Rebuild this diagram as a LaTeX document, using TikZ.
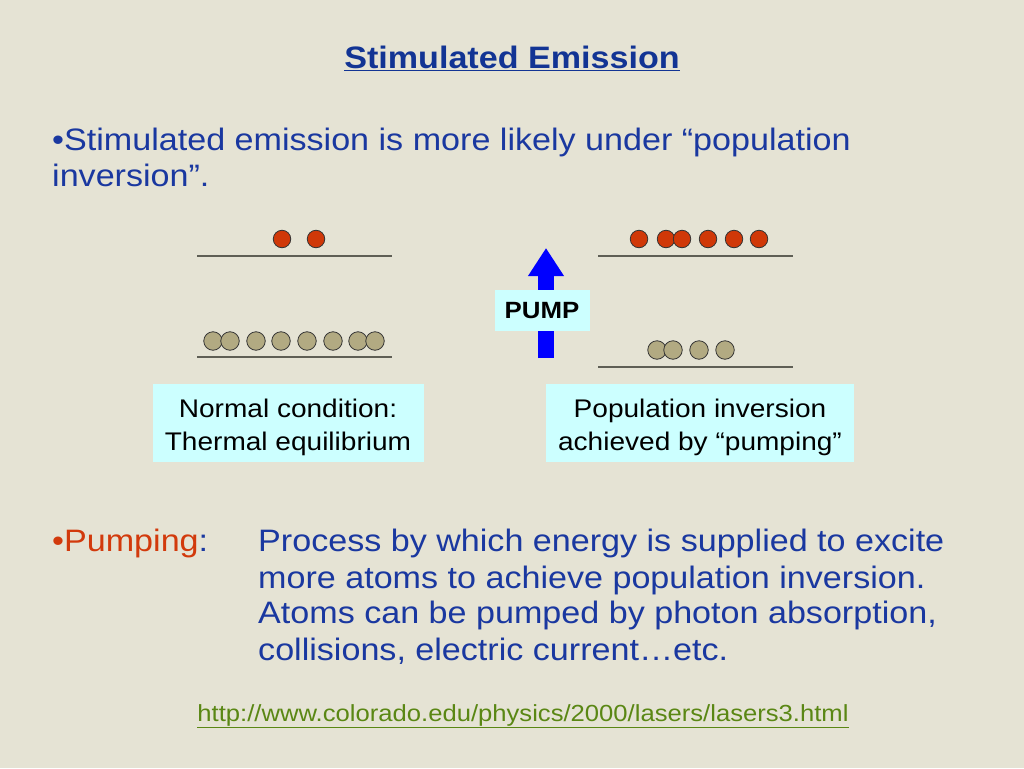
\documentclass[tikz,border=0pt]{standalone}
\usepackage{fontspec}
\setmainfont{Liberation Sans}[FakeStretch=1.1]
\usetikzlibrary{arrows.meta}

\definecolor{slidebg}{RGB}{229,227,212}
\definecolor{textblue}{RGB}{26,56,160}
\definecolor{titleblue}{RGB}{18,52,148}
\definecolor{pumporange}{RGB}{210,58,12}
\definecolor{boxcyan}{RGB}{204,255,255}
\definecolor{urlgreen}{RGB}{90,135,20}
\definecolor{levelgray}{RGB}{95,95,85}
\definecolor{atomred}{RGB}{208,56,8}
\definecolor{atomtan}{RGB}{178,170,130}

\tikzset{
  level/.style={draw=levelgray, line width=1.4pt},
  excited/.style={circle, draw=black!80, line width=0.8pt, fill=atomred, minimum size=17.5pt, inner sep=0pt},
  ground/.style={circle, draw=black!80, line width=0.8pt, fill=atomtan, minimum size=18.5pt, inner sep=0pt},
  body/.style={anchor=base west, inner sep=0pt, text=textblue, font=\fontsize{31}{36}\selectfont},
  infobox/.style={fill=boxcyan, inner sep=0pt, minimum height=78pt},
  infotext/.style={align=center, inner sep=0pt, font=\fontsize{25.5}{33}\selectfont},
}

\begin{document}
\begin{tikzpicture}[x=1pt,y=-1pt]
    \fill[slidebg] (0,0) rectangle (1024,768);
    \useasboundingbox (0,0) rectangle (1024,768);

    % title and first bullet
    \node[anchor=base, inner sep=0pt, text=titleblue, font=\fontsize{31}{36}\selectfont\bfseries] (title) at (512,68) {\underline{Stimulated Emission}};
    \node[body] (bullet1) at (52,150) {•Stimulated emission is more likely under “population};
    \node[body] (bullet1b) at (52,186) {inversion”.};

    % normal condition
    \coordinate (lup1) at (197,256);
    \coordinate (lup2) at (392,256);
    \coordinate (llo1) at (197,357);
    \coordinate (llo2) at (392,357);
    \draw[level] (lup1) -- (lup2);
    \draw[level] (llo1) -- (llo2);

    \node[excited] (lu1) at (282,239) {};
    \node[excited] (lu2) at (316,239) {};

    \node[ground] (ll1) at (213,341) {};
    \node[ground] (ll2) at (230,341) {};
    \node[ground] (ll3) at (256,341) {};
    \node[ground] (ll4) at (281,341) {};
    \node[ground] (ll5) at (307,341) {};
    \node[ground] (ll6) at (333,341) {};
    \node[ground] (ll7) at (358,341) {};
    \node[ground] (ll8) at (375,341) {};

    % population inversion
    \coordinate (rup1) at (598,256);
    \coordinate (rup2) at (793,256);
    \coordinate (rlo1) at (598,367);
    \coordinate (rlo2) at (793,367);
    \draw[level] (rup1) -- (rup2);
    \draw[level] (rlo1) -- (rlo2);

    \node[excited] (ru1) at (639,239) {};
    \node[excited] (ru2) at (666,239) {};
    \node[excited] (ru3) at (682,239) {};
    \node[excited] (ru4) at (708,239) {};
    \node[excited] (ru5) at (734,239) {};
    \node[excited] (ru6) at (759,239) {};

    \node[ground] (rl1) at (657,350) {};
    \node[ground] (rl2) at (673,350) {};
    \node[ground] (rl3) at (699,350) {};
    \node[ground] (rl4) at (725,350) {};

    % pump arrow
    \coordinate (pumpbase) at (546,358);
    \coordinate (pumptip) at (546,248);
    \draw[blue, line width=16pt, -{Triangle[width=34pt, length=28pt]}] (pumpbase) -- (pumptip);
    \node[fill=boxcyan, minimum width=95pt, minimum height=41pt, inner sep=0pt, font=\fontsize{23.5}{26}\selectfont\bfseries] (pump) at (542,310.5) {PUMP};

    % captions
    \node[infobox, minimum width=271pt] (normal) at (288.5,423) {};
    \node[infotext] (normaltext) at (288,427) {Normal condition:\\Thermal equilibrium};
    \node[infobox, minimum width=308pt] (invert) at (700,423) {};
    \node[infotext] (inverttext) at (700,427) {Population inversion\\achieved by “pumping”};

    % pumping bullet
    \node[body] (bullet2) at (52,551) {\textcolor{pumporange}{•Pumping}:};
    \node[body] (def1) at (258,551) {Process by which energy is supplied to excite};
    \node[body] (def2) at (258,588) {more atoms to achieve population inversion.};
    \node[body] (def3) at (258,623) {Atoms can be pumped by photon absorption,};
    \node[body] (def4) at (258,660) {collisions, electric current…etc.};

    % source
    \node[anchor=base, inner sep=0pt, text=urlgreen, font=\fontsize{23.3}{26}\selectfont] (url) at (523,721) {\underline{http://www.colorado.edu/physics/2000/lasers/lasers3.html}};
\end{tikzpicture}
\end{document}
